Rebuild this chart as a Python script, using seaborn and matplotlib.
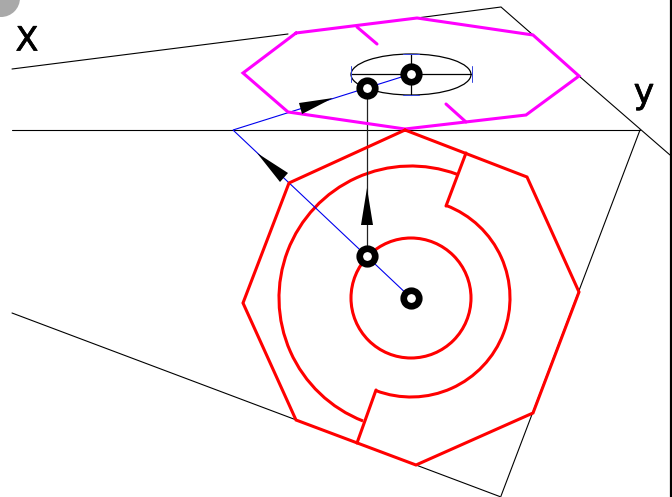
import matplotlib
matplotlib.use('Agg')
import matplotlib.pyplot as plt
import matplotlib.patheffects as pe
from matplotlib.patches import Arc, Circle, Ellipse
import seaborn as sns

sns.set_style('white')

# everything below is in picture pixels (y pointing down)
thin_lines = [
    ([12, 288], [69, 34]),
    ([417, 501, 533], [18, 7, 35]),
    ([579, 670], [76, 155]),
    ([12, 640], [130, 130]),
    ([640, 501], [130, 496]),
    ([12, 416], [313, 465]),
    ([416, 501], [465, 497]),
]
cross_x = [[351, 471], [411, 411]]
cross_y = [[74, 74], [54, 95]]
vert_x = [367, 367]
vert_y = [88, 256]

blue_x = [411, 233, 411]
blue_y = [298, 130, 74]
blue_ticks = [
    ([351, 351], [66, 82]),
    ([472, 472], [66, 82]),
    ([403, 419], [54, 54]),
    ([403, 419], [95, 95]),
]

magenta_x = [296, 417, 533, 579, 526, 405, 288, 243, 296]
magenta_y = [33, 18, 35, 76, 115, 129, 112, 73, 33]
magenta_ticks = [([357, 377], [27, 44]), ([446, 466], [104, 122])]

red_x = [405, 527, 579, 533, 416, 296, 243, 289, 405]
red_y = [130, 177, 292, 413, 465, 420, 303, 183, 130]
red_ticks = [([466, 446], [153, 206]), ([376, 357], [390, 443])]

hub = (411, 298)
inner_r = 60
big_arc = (132, 111.3, 290.4)
small_arc = (99, -69.2, 110.8)

rings_x = [367, 411, 367, 411]
rings_y = [88, 74, 256, 298]

arrow_heads = [
    ([367, 361, 373], [188, 225, 225]),
    ([333, 299, 302], [98, 103, 114]),
    ([257, 288, 280], [153, 173, 182]),
]


def poly(ax, x, y, color, lw):
    sns.lineplot(x=x, y=y, sort=False, estimator=None, color=color, linewidth=lw,
                 ax=ax, solid_capstyle='round', solid_joinstyle='miter')


fig = plt.figure(figsize=(6.72, 4.97), dpi=100)
ax = fig.add_axes([0, 0, 1, 1])
ax.set_xlim(0, 672)
ax.set_ylim(497, 0)
ax.axis('off')

ax.add_patch(Circle((1, -2), 19, color='#a9a9a9', lw=0))

for x, y in thin_lines:
    poly(ax, x, y, 'black', 0.8)
for x, y in zip(cross_x, cross_y):
    poly(ax, x, y, 'black', 0.9)
poly(ax, vert_x, vert_y, '#222222', 0.9)
ax.add_patch(Ellipse((411, 74.5), 120, 41, fill=False, ec='black', lw=0.9))

poly(ax, blue_x, blue_y, '#0000ee', 0.8)
for x, y in blue_ticks:
    poly(ax, x, y, '#3344dd', 0.7)

poly(ax, magenta_x, magenta_y, '#ff00ff', 2.2)
for x, y in magenta_ticks:
    poly(ax, x, y, '#ff00ff', 2.2)

poly(ax, red_x, red_y, '#ff0000', 2.2)
for x, y in red_ticks:
    poly(ax, x, y, '#ff0000', 2.2)
ax.add_patch(Circle(hub, inner_r, fill=False, ec='#ff0000', lw=2.2))
for r, t1, t2 in (big_arc, small_arc):
    ax.add_patch(Arc(hub, 2 * r, 2 * r, theta1=t1, theta2=t2, ec='#ff0000', lw=2.2))

for x, y in arrow_heads:
    ax.fill(x, y, color='black', lw=0, zorder=5)

sns.scatterplot(x=rings_x, y=rings_y, s=125, color='white', edgecolor='black',
                linewidth=4.8, ax=ax, zorder=6)

heavy = [pe.withStroke(linewidth=0.5, foreground='black')]
ax.text(27, 41, 'X', fontsize=24, ha='center', va='center', color='black', path_effects=heavy)
ax.text(644, 93, 'y', fontsize=25, ha='center', va='center', color='black', path_effects=heavy)

ax.plot([670.5, 670.5], [0, 497], color='black', lw=1.6)

fig.savefig('out.png', dpi=100)
